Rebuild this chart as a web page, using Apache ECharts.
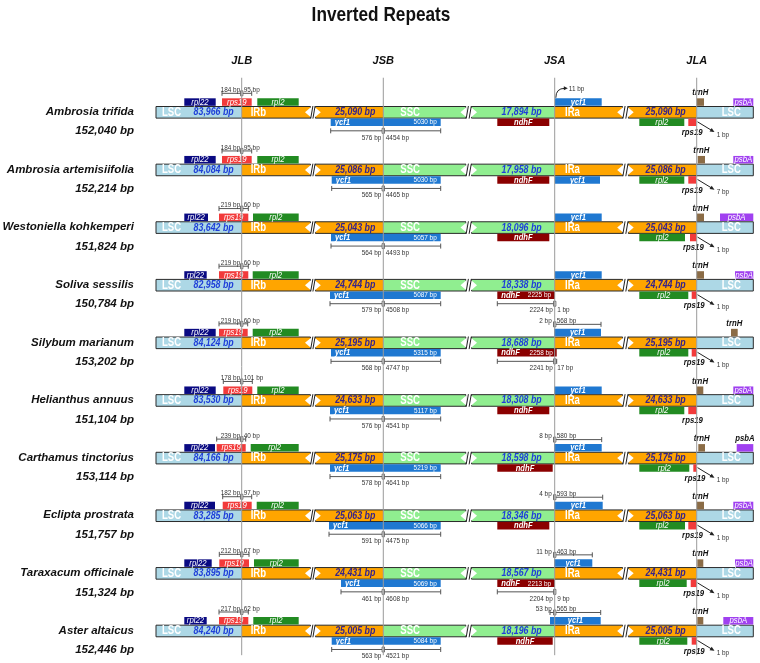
<!DOCTYPE html>
<html><head><meta charset="utf-8">
<script src="https://cdn.jsdelivr.net/npm/echarts@6/dist/echarts.min.js"></script>
<style>html,body{margin:0;padding:0;background:#fff}#c{width:760px;height:663px}</style>
</head><body><div id="c"></div>
<script>
// ---------- DATA ----------
const species = ['Ambrosia trifida','Ambrosia artemisiifolia','Westoniella kohkemperi','Soliva sessilis','Silybum marianum','Helianthus annuus','Carthamus tinctorius','Eclipta prostrata','Taraxacum officinale','Aster altaicus'];
const genomeSize = ['152,040 bp','152,214 bp','151,824 bp','150,784 bp','153,202 bp','151,104 bp','153,114 bp','151,757 bp','151,324 bp','152,446 bp'];
const lscSize = ['83,966 bp','84,084 bp','83,642 bp','82,958 bp','84,124 bp','83,530 bp','84,166 bp','83,285 bp','83,895 bp','84,240 bp'];
const irSize  = ['25,090 bp','25,086 bp','25,043 bp','24,744 bp','25,195 bp','24,633 bp','25,175 bp','25,063 bp','24,431 bp','25,005 bp'];
const sscSize = ['17,894 bp','17,958 bp','18,096 bp','18,338 bp','18,688 bp','18,308 bp','18,598 bp','18,346 bp','18,567 bp','18,196 bp'];

const junctionNames = ['JLB','JSB','JSA','JLA'];
const junctionPos = [241.7, 383.3, 554.7, 696.7];   // schematic x units

// gene spans in schematic x units, one per species
const rpl22Top = [[184.3,215.7],[184.3,215.7],[184.3,208],[184.3,206.7],[184.3,215.7],[184.3,215.7],[184.3,215],[184.3,215],[184.3,211.7],[184.3,206.7]];
const rps19Top = [[222,251.7],[222,251.7],[219,248.3],[219,248.3],[219,247.7],[223.3,252.3],[216.7,245.7],[222.7,251.7],[219.3,249],[219,248.3]];
const rps19TopSplit = [['184 bp','95 bp'],['184 bp','95 bp'],['219 bp','60 bp'],['219 bp','60 bp'],['219 bp','60 bp'],['178 bp','101 bp'],['239 bp','40 bp'],['182 bp','97 bp'],['212 bp','67 bp'],['217 bp','62 bp']];
const rpl2Top = [[257.3,298.7],[257.3,298.7],[253,298.7],[252.7,298.7],[252.7,298.7],[257.3,298.7],[250.7,298.7],[256.7,298.7],[254,298.7],[253.3,298.7]];
const ycf1Ssc = [[330.7,440.7],[331.7,440.7],[331,440.7],[330,440.7],[331,440.7],[330,440.7],[330,440.7],[329,440.7],[341,440.7],[331.7,440.7]];
const ycf1SscLen = ['5030 bp','5030 bp','5057 bp','5087 bp','5315 bp','5117 bp','5219 bp','5066 bp','5069 bp','5084 bp'];
const ycf1SscSplit = [['576 bp','4454 bp'],['565 bp','4465 bp'],['564 bp','4493 bp'],['579 bp','4508 bp'],['568 bp','4747 bp'],['576 bp','4541 bp'],['578 bp','4641 bp'],['591 bp','4475 bp'],['461 bp','4608 bp'],['563 bp','4521 bp']];
const ycf1Ir = [[555,601.7],[555,600],[555,601.7],[555,601.7],[554,601],[554.3,601.7],[554,601.7],[554,602.7],[554,592.3],[550,600.7]];
const ycf1IrSide = ['top','bottom','top','top','top','top','top','top','top','top'];
const ycf1IrSplit = [null,null,null,null,['2 bp','568 bp'],null,['8 bp','580 bp'],['4 bp','593 bp'],['11 bp','463 bp'],['53 bp','565 bp']];
const ycf1IrGap = ['11 bp',null,null,null,null,null,null,null,null,null];
const ndhF = [[497.3,549.3],[497.3,549.3],[497.3,549.3],[497.3,555],[497.3,556.7],[497.3,549.3],[497.3,552.7],[497.3,549.3],[497.3,555],[497.3,552.7]];
const ndhFLen = [null,null,null,'2225 bp','2258 bp',null,null,null,'2213 bp',null];
const ndhFSplit = [null,null,null,['2224 bp','1 bp'],['2241 bp','17 bp'],null,null,null,['2204 bp','9 bp'],null];
const rpl2Bottom = [[639.3,684.3],[639.3,684.3],[639.3,685],[639.3,688.3],[639.3,688.3],[639.3,684.3],[639.3,689.3],[639.3,685],[639.3,686.7],[639.3,687.3]];
const rps19Bottom = [[688.3,696],[688.3,696],[690,696.7],[691.7,696.7],[691.7,696.7],[688.3,696.7],[693.3,696.7],[688.3,696.7],[690.7,696.7],[691.7,696.7]];
const rps19Gap = ['1 bp','7 bp','1 bp','1 bp','1 bp',null,'1 bp','1 bp','1 bp','1 bp'];
const trnH = [[696.7,704],[697.7,705],[697,704],[696.7,704],[731,737.7],[696.7,703.3],[698.3,705],[696.7,704],[697.3,703.3],[697.3,703.3]];
const psbA = [[733.3,753.3],[733.3,753.3],[720,753.3],[735,753.3],null,[733.3,753.3],[736.7,753.3],[733.3,753.3],[735,753.3],[723.3,753.3]];
const psbALabelOutside = [false,false,false,false,false,false,true,false,false,false];

// ---------- LAYOUT / STYLE ----------
const LAYOUT = {nameRight:134, barStart:156, barEnd:753.3,
  breaks:[[310.5,315.3],[466,471.5],[622.7,628.2]],
  lscLabel:162, irbLabel:250.7, sscLabel:400.3, iraLabel:565, lsc2Label:721.7, titleX:381};
const C = {lsc:'#add8e6', ir:'#ffa500', ssc:'#90ee90', rpl22:'#0a0a82', rps19:'#f23a3a', rpl2:'#228b22',
  ycf1:'#1f78d1', ndhF:'#8b0000', trnH:'#8b6c46', psbA:'#a040f0', bpBlue:'#1f3fd8', bpPurple:'#35238a',
  ann:'#333', brk:'#555'};
const SANS = '"Liberation Sans", Arial, sans-serif';
// [font, horizontal squeeze]
const F = {
  name:['italic bold 11.5px '+SANS,1], seg:['bold 12px '+SANS,0.8], bp:['italic bold 11px '+SANS,0.8],
  gene:['italic 9.5px '+SANS,0.82], geneB:['italic bold 9.5px '+SANS,0.8], small:['8px '+SANS,0.8],
  lab:['italic bold 9.5px '+SANS,0.82], junc:['italic bold 11px '+SANS,1]
};
const HH = 5.8;

function textEl(t,x,y,f,fill,align){
  return {type:'text', x, y, scaleX:f[1], style:{text:t,x:0,y:0,font:f[0],fill,align,textAlign:align,verticalAlign:'middle',textVerticalAlign:'middle'}};
}

function renderRow(params, api) {
  const r = api.value(0);
  const X = v => api.coord([v, r])[0];
  const cy = api.coord([0, r])[1];
  const ch = [];
  const rect = (x0,x1,y0,y1,style) => ch.push({type:'rect', shape:{x:x0,y:y0,width:x1-x0,height:y1-y0}, style});
  const line = (x1,y1,x2,y2,stroke,w) => ch.push({type:'line', shape:{x1,y1,x2,y2}, style:{stroke, lineWidth:w||1}});
  const txt = (t,x,y,f,fill,align) => ch.push(textEl(t,x,y,f,fill,align));
  const topY0 = cy-14, topY1 = cy-6.5, botY0 = cy+6.2, botY1 = cy+13.7;
  const gene = (span, side, color, label, f, labelAlign) => {
    const y0 = side==='top'?topY0:botY0, y1 = side==='top'?topY1:botY1;
    rect(X(span[0]), X(span[1]), y0, y1, {fill:color});
    if (label) {
      if (labelAlign==='left') txt(label, X(span[0])+4, (y0+y1)/2, f, '#fff', 'left');
      else txt(label, (X(span[0])+X(span[1]))/2, (y0+y1)/2, f, '#fff', 'center');
    }
  };
  const bracket = (x0,x1,xm,y) => {
    line(X(x0),y,X(x1),y,C.brk,1);
    line(X(x0),y-2.5,X(x0),y+2.5,C.brk,1);
    line(X(x1),y-2.5,X(x1),y+2.5,C.brk,1);
    rect(X(xm)-1.2,X(xm)+1.2,y-2.5,y+2.5,{fill:'#fff',stroke:C.brk,lineWidth:0.8});
  };
  const [JLB,JSB,JSA,JLA] = junctionPos;
  const B = LAYOUT.breaks;

  // names
  txt(species[r], X(LAYOUT.nameRight), cy-0.5, F.name, '#111', 'right');
  txt(genomeSize[r], X(LAYOUT.nameRight), cy+19, F.name, '#111', 'right');

  // bar segments
  const segs = [[LAYOUT.barStart,JLB,C.lsc],[JLB,B[0][0],C.ir],[B[0][1],JSB,C.ir],[JSB,B[1][0],C.ssc],
    [B[1][1],JSA,C.ssc],[JSA,B[2][0],C.ir],[B[2][1],JLA,C.ir],[JLA,LAYOUT.barEnd,C.lsc]];
  segs.forEach(s => rect(X(s[0]),X(s[1]),cy-HH,cy+HH,{fill:s[2]}));
  const pieces = [[LAYOUT.barStart,B[0][0]],[B[0][1],B[1][0]],[B[1][1],B[2][0]],[B[2][1],LAYOUT.barEnd]];
  pieces.forEach(p => rect(X(p[0]),X(p[1]),cy-HH,cy+HH,{fill:'none',stroke:'#2a2a2a',lineWidth:1}));
  B.forEach(([a,b]) => {
    ch.push({type:'polygon', shape:{points:[[X(a)-5.5,cy],[X(a)+0.6,cy-HH+0.6],[X(a)+0.6,cy+HH-0.6]]}, style:{fill:'#fff'}});
    ch.push({type:'polygon', shape:{points:[[X(b)+5.5,cy],[X(b)-0.6,cy-HH+0.6],[X(b)-0.6,cy+HH-0.6]]}, style:{fill:'#fff'}});
    rect(X(a)+0.5,X(b)-0.5,cy-HH-1,cy+HH+1,{fill:'#fff'});
    line(X(a)+0.2,cy+HH+0.5,X(a)+2.4,cy-HH-0.5,'#222',1);
    line(X(b)-2.4,cy+HH+0.5,X(b)-0.2,cy-HH-0.5,'#222',1);
  });
  // bar texts
  txt('LSC', X(LAYOUT.lscLabel), cy, F.seg, '#fff', 'left');
  txt(lscSize[r], X(JLB)-8, cy, F.bp, C.bpBlue, 'right');
  txt('IRb', X(LAYOUT.irbLabel), cy, F.seg, '#fff', 'left');
  txt(irSize[r], X(JSB)-8, cy, F.bp, C.bpPurple, 'right');
  txt('SSC', X(LAYOUT.sscLabel), cy, F.seg, '#fff', 'left');
  txt(sscSize[r], X(JSA)-13, cy, F.bp, C.bpBlue, 'right');
  txt('IRa', X(LAYOUT.iraLabel), cy, F.seg, '#fff', 'left');
  txt(irSize[r], X(JLA)-11, cy, F.bp, C.bpPurple, 'right');
  txt('LSC', X(LAYOUT.lsc2Label), cy, F.seg, '#fff', 'left');

  // left genes
  gene(rpl22Top[r],'top',C.rpl22,'rpl22',F.gene);
  gene(rps19Top[r],'top',C.rps19,'rps19',F.gene);
  gene(rpl2Top[r],'top',C.rpl2,'rpl2',F.gene);
  const sp = rps19TopSplit[r];
  bracket(rps19Top[r][0], rps19Top[r][1], JLB, cy-19);
  txt(sp[0], X(JLB)-1.5, cy-22.5, F.small, C.ann, 'right');
  txt(sp[1], X(JLB)+2, cy-22.5, F.small, C.ann, 'left');

  // ycf1 across JSB
  gene(ycf1Ssc[r],'bottom',C.ycf1,'ycf1',F.geneB,'left');
  txt(ycf1SscLen[r], X(ycf1Ssc[r][1])-4, (botY0+botY1)/2, F.small, '#fff', 'right');
  bracket(ycf1Ssc[r][0], ycf1Ssc[r][1], JSB, cy+18.5);
  txt(ycf1SscSplit[r][0], X(JSB)-2, cy+25, F.small, C.ann, 'right');
  txt(ycf1SscSplit[r][1], X(JSB)+2.5, cy+25, F.small, C.ann, 'left');

  // ndhF across JSA
  gene(ndhF[r],'bottom',C.ndhF,'ndhF',F.geneB, ndhFLen[r]?'left':null);
  if (ndhFLen[r]) txt(ndhFLen[r], X(ndhF[r][1])-4, (botY0+botY1)/2, F.small, '#fff', 'right');
  if (ndhFSplit[r]) {
    bracket(ndhF[r][0], ndhF[r][1], JSA, cy+18.5);
    txt(ndhFSplit[r][0], X(JSA)-2, cy+25, F.small, C.ann, 'right');
    txt(ndhFSplit[r][1], X(JSA)+2.5, cy+25, F.small, C.ann, 'left');
  }

  // ycf1 in IRa
  gene(ycf1Ir[r], ycf1IrSide[r], C.ycf1, 'ycf1', F.geneB);
  if (ycf1IrSplit[r]) {
    bracket(ycf1Ir[r][0], ycf1Ir[r][1], JSA, cy-18.5);
    txt(ycf1IrSplit[r][0], X(JSA)-3, cy-22, F.small, C.ann, 'right');
    txt(ycf1IrSplit[r][1], X(JSA)+2, cy-22, F.small, C.ann, 'left');
  }
  if (ycf1IrGap[r]) {
    const sx = X(ycf1Ir[r][0])+0.8, sy = topY0-0.5, ex = sx+9, ey = cy-24;
    ch.push({type:'bezierCurve', shape:{x1:sx,y1:sy,x2:ex,y2:ey,cpx1:sx,cpy1:ey}, style:{stroke:'#222',lineWidth:1,fill:'none'}});
    ch.push({type:'polygon', shape:{points:[[ex+3,ey],[ex-1,ey-2],[ex-1,ey+2]]}, style:{fill:'#222'}});
    txt(ycf1IrGap[r], ex+4, ey, F.small, C.ann, 'left');
  }

  // right end genes
  gene(rpl2Bottom[r],'bottom',C.rpl2,'rpl2',F.gene);
  rect(X(rps19Bottom[r][0]),X(rps19Bottom[r][1]),botY0,botY1,{fill:C.rps19});
  txt('rps19', (X(rps19Bottom[r][0])+X(rps19Bottom[r][1]))/2, cy+20, F.lab, '#111', 'center');
  if (rps19Gap[r]) {
    const ax0 = X(JLA)+0.8, ay0 = cy+9.5, ax1 = X(JLA)+16.5, ay1 = cy+19;
    line(ax0,ay0,ax1,ay1,'#222',1);
    const dx = ax1-ax0, dy = ay1-ay0, L = Math.hypot(dx,dy), ux = dx/L, uy = dy/L;
    ch.push({type:'polygon', shape:{points:[[ax1+ux*1.5,ay1+uy*1.5],[ax1-ux*3-uy*2,ay1-uy*3+ux*2],[ax1-ux*3+uy*2,ay1-uy*3-ux*2]]}, style:{fill:'#222'}});
    txt(rps19Gap[r], X(JLA)+20, cy+22, F.small, C.ann, 'left');
  }
  rect(X(trnH[r][0]),X(trnH[r][1]),topY0,topY1,{fill:C.trnH});
  txt('trnH', (X(trnH[r][0])+X(trnH[r][1]))/2, cy-19.5, F.lab, '#111', 'center');
  if (psbA[r]) {
    rect(X(psbA[r][0]),X(psbA[r][1]),topY0,topY1,{fill:C.psbA});
    const mx = (X(psbA[r][0])+X(psbA[r][1]))/2;
    if (psbALabelOutside[r]) txt('psbA', mx, cy-19.5, F.lab, '#111', 'center');
    else txt('psbA', mx, (topY0+topY1)/2, F.gene, '#fff', 'center');
  }
  return {type:'group', children:ch};
}

function renderJunction(params, api) {
  const i = api.value(0);
  const x = junctionPos[i];
  const top = api.coord([x, -0.6]);
  const bot = api.coord([x, 9.42]);
  return {type:'group', children:[
    {type:'line', shape:{x1:top[0],y1:top[1],x2:bot[0],y2:bot[1]}, style:{stroke:'#9a9a9a',lineWidth:1}},
    textEl(junctionNames[i], top[0], top[1]-17, F.junc, '#111', 'center')
  ]};
}

const chart = echarts.init(document.getElementById('c'), null, {renderer:'canvas'});
chart.setOption({
  animation:false,
  backgroundColor:'#fff',
  graphic:[{type:'text', x:LAYOUT.titleX, y:15, scaleX:0.82, silent:true,
    style:{text:'Inverted Repeats', x:0, y:0, font:'bold 21px '+SANS, fill:'#111', align:'center', textAlign:'center', verticalAlign:'middle', textVerticalAlign:'middle'}}],
  grid:{left:0, right:0, top:83.5, height:576.3},
  xAxis:{type:'value', min:0, max:760, show:false},
  yAxis:{type:'value', min:-0.5, max:9.5, inverse:true, show:false},
  series:[
    {type:'custom', renderItem:renderRow, clip:false, silent:true, data:species.map((s,i)=>[i]), z:2},
    {type:'custom', renderItem:renderJunction, clip:false, silent:true, data:junctionNames.map((s,i)=>[i]), z:5}
  ]
});
</script></body></html>
